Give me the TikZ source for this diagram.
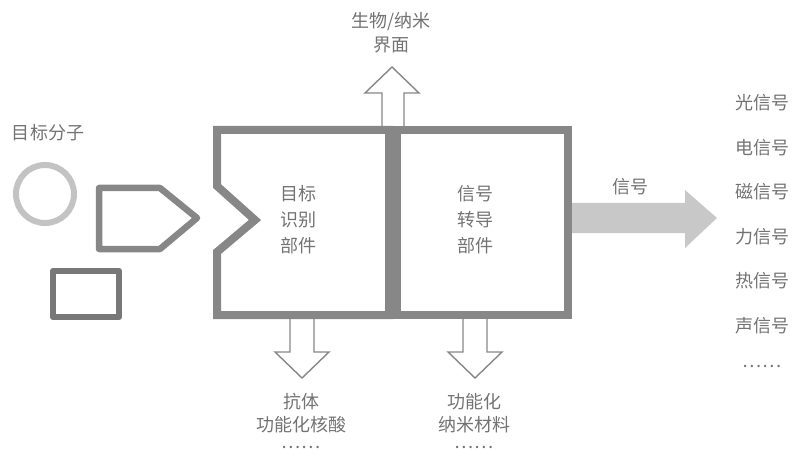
\documentclass[tikz,border=0pt]{standalone}
\usepackage{fontspec}
\setmainfont{Noto Sans CJK SC}
\usepackage{tikz}
\usetikzlibrary{positioning}
\definecolor{cadre}{RGB}{135,135,135}
\definecolor{clair}{RGB}{195,195,195}
\definecolor{fonce}{RGB}{120,120,120}
\definecolor{texte}{RGB}{115,115,115}
\definecolor{fleche}{RGB}{200,200,200}
\tikzset{
  lbl/.style={text=texte,font=\fontsize{18}{25}\selectfont,align=center,inner sep=0pt},
  creux/.style={draw=cadre,line width=1.4pt,fill=white,line join=miter}
}

\begin{document}
\begin{tikzpicture}[x=1pt,y=-1pt]
  \useasboundingbox (0,0) rectangle (794,454);
  % molecules cibles
  \node[lbl] (cible) at (48,133) {目标分子};
  \draw[clair,line width=6pt] (45,194) circle (29);
  \draw[cadre,line width=6.5pt,line join=round] (99,188)--(160,188)--(197,218)--(160,249)--(99,249)--cycle;
  \draw[fonce,line width=6.5pt,line join=round] (53,271) rectangle (119,317);
  % fleche haut
  \draw[creux] (382,126)--(382,93)--(365,93)--(392,67)--(419,93)--(404,93)--(404,126);
  \node[lbl] (interface) at (391,33) {生物/纳米\\[-1pt]界面};
  % fleches bas
  \draw[creux] (290,318)--(290,352)--(275,352)--(302,378)--(329,352)--(314,352)--(314,318);
  \draw[creux] (463,318)--(463,352)--(448,352)--(475,378)--(502,352)--(487,352)--(487,318);
  \node[lbl,anchor=north] (anticorps) at (301,393) {抗体\\[-2pt]功能化核酸\\[-8pt]……};
  \node[lbl,anchor=north] (nano) at (474,393) {功能化\\[-2pt]纳米材料\\[-8pt]……};
  % fleche signal
  \fill[fleche] (572,203)--(685,203)--(685,190)--(717,218)--(685,248)--(685,233)--(572,233)--cycle;
  \node[lbl] (signal) at (630,187) {信号};
  % boites
  \draw[cadre,line width=8pt,line join=miter] (389,130)--(217,130)--(217,186)--(255,220)--(217,252)--(217,315)--(389,315)--cycle;
  \draw[cadre,line width=8pt] (397,130) rectangle (568,315);
  \node[lbl] (reconnaissance) at (298,220) {目标\\[1pt]识别\\[1pt]部件};
  \node[lbl] (transduction) at (475,220) {信号\\[1pt]转导\\[1pt]部件};
  % liste des signaux
  \foreach \t [count=\i] in {光信号,电信号,磁信号,力信号,热信号,声信号}
    \node[lbl] (sig\i) at (762,58+44.6*\i) {\t};
  \node[lbl] (sig7) at (762,366) {……};
\end{tikzpicture}
\end{document}
